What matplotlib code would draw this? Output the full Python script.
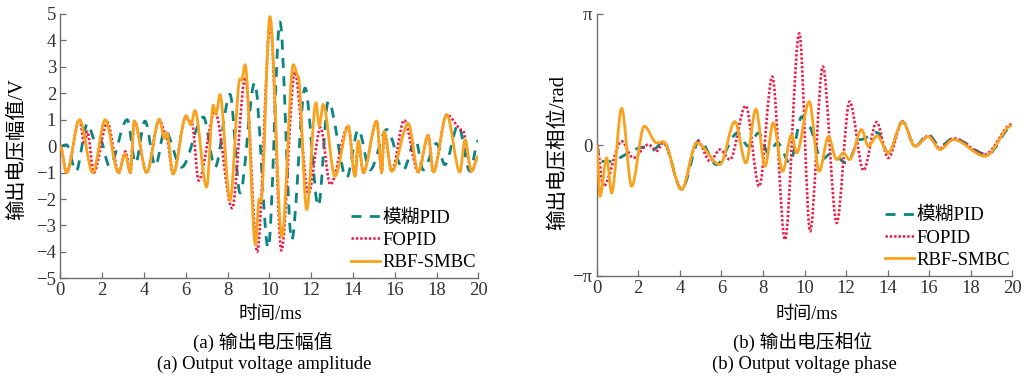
import matplotlib
matplotlib.use("Agg")
import matplotlib.pyplot as plt
from matplotlib.path import Path
from matplotlib.patches import PathPatch
from matplotlib.lines import Line2D
import numpy as np

# ---------------- data (extrema) ----------------
# (a) output voltage amplitude, V
amp_rbf_t = [0, 0.3, 0.92, 1.55, 2.15, 2.78, 3.1, 3.35, 3.54, 4.13, 4.74, 4.98, 5.1, 5.4, 6.02, 6.25, 6.44,
             7.0, 7.32, 7.45, 7.64, 8.12, 8.6, 8.68, 8.84, 9.34, 9.52, 9.6, 10.03, 10.6, 11.15, 11.38, 11.79,
             12.23, 12.39, 12.58, 13.14, 13.78, 14.1, 14.26, 14.5, 15.14, 15.38, 15.49, 15.86, 16.65, 17.13,
             17.6, 17.85, 18.49, 19.12, 19.36, 19.68, 20]
amp_rbf_v = [0, -1.0, 1.0, -1.0, 1.0, -1.0, -0.3, -1.0, 0.95, -1.0, 1.02, 0.3, 0.5, -1.05, 1.15, 0.8, 1.35,
             -1.55, 1.55, 1.2, 1.95, -2.05, 2.55, 2.5, 3.08, -3.72, -2.0, -2.1, 4.9, -3.45, 3.08, 2.65, -2.4,
             1.64, 0.76, 1.58, -1.14, 0.76, -1.14, 0.2, -1.0, 0.95, -1.0, 0.57, -0.95, 0.86, -0.98,
             0.4, -0.98, 1.19, -0.98, 0.23, -0.95, -0.4]

amp_fopid_t = [0, 0.3, 0.92, 1.15, 1.3, 1.6, 2.25, 2.8, 3.12, 3.35, 3.54, 4.13, 4.74, 5.05, 5.4, 6.0, 6.3,
               6.62, 7.4, 8.22, 8.85, 9.42, 10.05, 10.58, 11.22, 11.87, 12.45, 12.92, 13.78, 14.1, 14.26, 14.5,
               15.14, 15.38, 15.5, 15.86, 16.45, 17.13, 17.6, 17.85, 18.49, 19.25, 19.68, 20]
amp_fopid_v = [0, -1.0, 1.0, 0.1, 0.55, -1.0, 0.9, -1.0, -0.2, -1.0, 0.95, -1.0, 1.0, 0.45, -1.05, 1.1, 0.85,
               -1.3, 1.3, -2.35, 2.6, -4.0, 4.6, -3.95, 2.8, -1.8, 0.7, -1.45, 0.76, -1.14, 0.1, -1.0,
               0.95, -1.0, 0.5, -0.95, 0.98, -0.98, 0.4, -0.98, 1.19, 0.6, -0.95, -0.4]

amp_fuzzy_t = [0, 0.3, 0.75, 1.3, 1.7, 1.9, 2.35, 3.2, 3.6, 4.05, 4.55, 5.0, 5.8, 6.85, 7.4, 8.12, 8.6,
               9.3, 9.95, 10.51, 11.07, 11.71, 12.35, 12.82, 13.7, 14.26, 14.82, 15.62, 16.41, 17.0, 17.36,
               18.0, 18.4, 19.04, 19.6, 20]
amp_fuzzy_v = [0, 0.05, -0.95, 0.85, 0.15, 0.25, -0.75, 1.0, -0.65, 0.95, -0.75, 0.6, -0.8, 1.1, -0.8,
               1.96, -1.77, 2.4, -3.85, 4.7, -3.55, 2.2, -2.27, 1.7, -1.2, 0.63, -0.9, 0.63, -0.9, 0.25, -0.9,
               0.1, -0.7, 0.8, -0.95, 0.2]

# (b) output voltage phase, rad
ph_rbf_t = [0, 0.16, 0.48, 0.72, 1.2, 1.68, 2.29, 2.89, 3.21, 4.09, 4.81, 5.93, 6.65, 7.18, 7.66, 8.1, 8.5,
            8.95, 9.38, 9.62, 10.23, 10.71, 11.15, 11.55, 11.87, 12.17, 12.75, 13.07, 13.5, 14.03, 14.72, 15.32,
            15.96, 16.52, 17.16, 18.69, 20]
ph_rbf_v = [0, -1.23, -0.31, -1.15, 0.88, -0.99, 0.45, 0.05, 0.08, -1.07, 0.05, -0.47, 0.56, -0.43, 0.86, -0.51,
            0.53, -0.63, 0.25, -0.19, 1.04, -0.63, 0.2, -0.35, -0.19, -0.35, 0.37, -0.03, 0.22, -0.19, 0.56, -0.03,
            0.2, -0.11, 0.13, -0.27, 0.47]

ph_fopid_t = [0, 0.32, 1.2, 1.76, 2.48, 2.9, 3.2, 4.09, 4.86, 5.45, 5.93, 6.41, 7.17, 7.82, 8.45, 9.06, 9.75,
              10.27, 10.88, 11.55, 12.17, 12.84, 13.47, 14.03, 14.72, 15.32, 15.96, 16.52, 17.16, 18.69, 20]
ph_fopid_v = [0, -0.99, 0.09, -0.31, 0.01, -0.14, 0.05, -1.05, 0.1, -0.39, -0.11, -0.35, 0.94, -0.99, 1.64, -2.27,
              2.68, -2.07, 1.88, -1.87, 1.04, -0.61, 0.55, -0.31, 0.56, -0.03, 0.22, -0.08, 0.16, -0.22, 0.5]

ph_fuzzy_t = [0, 0.16, 0.5, 2.3, 2.7, 3.21, 4.09, 4.95, 5.76, 6.78, 7.3, 7.79, 8.26, 8.7, 9.3, 9.87, 10.2,
              10.82, 11.3, 12.03, 12.68, 13.5, 14.03, 14.72, 15.32, 15.96, 16.52, 17.16, 18.8, 20]
ph_fuzzy_v = [0, -0.39, -0.4, -0.05, -0.12, 0.08, -1.07, 0.12, -0.47, 0.29, -0.03, 0.29, -0.19, 0.05, -0.43, 0.68,
              0.45, -0.35, -0.2, -0.43, 0.13, 0.3, -0.19, 0.56, -0.03, 0.25, -0.03, 0.16, -0.23, 0.45]

labels = ["模糊PID", "FOPID", "RBF-SMBC"]
x_ticks = [0, 2, 4, 6, 8, 10, 12, 14, 16, 18, 20]
amp_ticks = [-5, -4, -3, -2, -1, 0, 1, 2, 3, 4, 5]

# ---------------- styling ----------------
C_FUZZY = "#0b8482"
C_FOPID = "#ec1c45"
C_RBF = "#f8a21e"
SERIF_CJK = ["Liberation Serif", "Noto Sans CJK SC"]
plt.rcParams["font.family"] = SERIF_CJK
plt.rcParams["axes.unicode_minus"] = True

styles = [
    dict(color=C_FUZZY, lw=2.0, ls=(0, (3.6, 3.0))),
    dict(color=C_FOPID, lw=1.9, ls=(0, (0.9, 0.75))),
    dict(color=C_RBF, lw=2.0, ls="-"),
]


def smooth_path(ax, t, v, style, z):
    """Smooth curve through extrema with horizontal tangents (cubic Bezier)."""
    verts = [(t[0], v[0])]
    codes = [Path.MOVETO]
    for i in range(len(t) - 1):
        dt = t[i + 1] - t[i]
        verts += [(t[i] + dt / 3, v[i]), (t[i + 1] - dt / 3, v[i + 1]), (t[i + 1], v[i + 1])]
        codes += [Path.CURVE4] * 3
    patch = PathPatch(Path(verts, codes), facecolor="none", edgecolor=style["color"],
                      lw=style["lw"], linestyle=style["ls"], transform=ax.transData,
                      zorder=z, capstyle="butt", joinstyle="round")
    ax.add_patch(patch)


def style_axes(ax):
    for s in ["top", "right"]:
        ax.spines[s].set_visible(False)
    for s in ["left", "bottom"]:
        ax.spines[s].set_color("#6e6e6e")
        ax.spines[s].set_linewidth(1.0)
    ax.tick_params(direction="in", length=4, width=0.9, color="#6e6e6e",
                   labelsize=13.5, labelcolor="#333333", pad=3)
    ax.set_xlim(0, 20)
    ax.set_xticks(x_ticks)


W, H = 1027, 380
fig = plt.figure(figsize=(W / 100, H / 100), dpi=100)

axL = fig.add_axes([60.3 / W, 1 - 278.3 / H, (478.3 - 60.3) / W, (278.3 - 14) / H])
axR = fig.add_axes([596.7 / W, 1 - 276 / H, (1012.3 - 596.7) / W, (276 - 14) / H])

for ax, series in [
    (axL, [(amp_fuzzy_t, amp_fuzzy_v), (amp_fopid_t, amp_fopid_v), (amp_rbf_t, amp_rbf_v)]),
    (axR, [(ph_fuzzy_t, ph_fuzzy_v), (ph_fopid_t, ph_fopid_v), (ph_rbf_t, ph_rbf_v)]),
]:
    style_axes(ax)
    for k, (t, v) in enumerate(series):
        smooth_path(ax, t, v, styles[k], 2 + k)
    handles = [Line2D([], [], color=s["color"], lw=s["lw"], ls=s["ls"]) for s in styles]
    ax.legend(handles, labels, loc="lower right", frameon=False, fontsize=13.5,
              handlelength=1.55, handletextpad=0.15, labelspacing=0.28,
              borderaxespad=0, borderpad=0,
              bbox_to_anchor=(0.995, 0.027))

axL.set_ylim(-5, 5)
axL.set_yticks(amp_ticks)
axL.set_yticklabels([str(v).replace("-", "\u2212") for v in amp_ticks])

axR.set_ylim(-np.pi, np.pi)
axR.set_yticks([-np.pi, 0, np.pi])
axR.set_yticklabels(["\u2212\u03c0", "0", "\u03c0"])

renderer = fig.canvas.get_renderer()


def fit_text(x_px, y_px, s, target_px, along="w", rotation=0, fs0=14.0):
    """Place text centred at a pixel position and scale it to a measured extent."""
    t = fig.text(x_px / W, 1 - y_px / H, s, rotation=rotation, ha="center", va="center",
                 fontsize=fs0)
    bb = t.get_window_extent(renderer)
    size = bb.width if along == "w" else bb.height
    t.set_fontsize(fs0 * target_px / size)
    return t


# axis labels and captions
fit_text(17.5, 149, "输出电压幅值/V", 142, along="h", rotation=90)
fit_text(558.5, 152.5, "输出电压相位/rad", 155, along="h", rotation=90)

fit_text(270, 315, "时间/ms", 64)
fit_text(806.7, 315, "时间/ms", 63)
fit_text(263, 342, "(a) 输出电压幅值", 140)
fit_text(803, 342, "(b) 输出电压相位", 140)
fit_text(264, 364, "(a) Output voltage amplitude", 216)
fit_text(804, 364, "(b) Output voltage phase", 185)

fig.savefig("out.png", dpi=100)
